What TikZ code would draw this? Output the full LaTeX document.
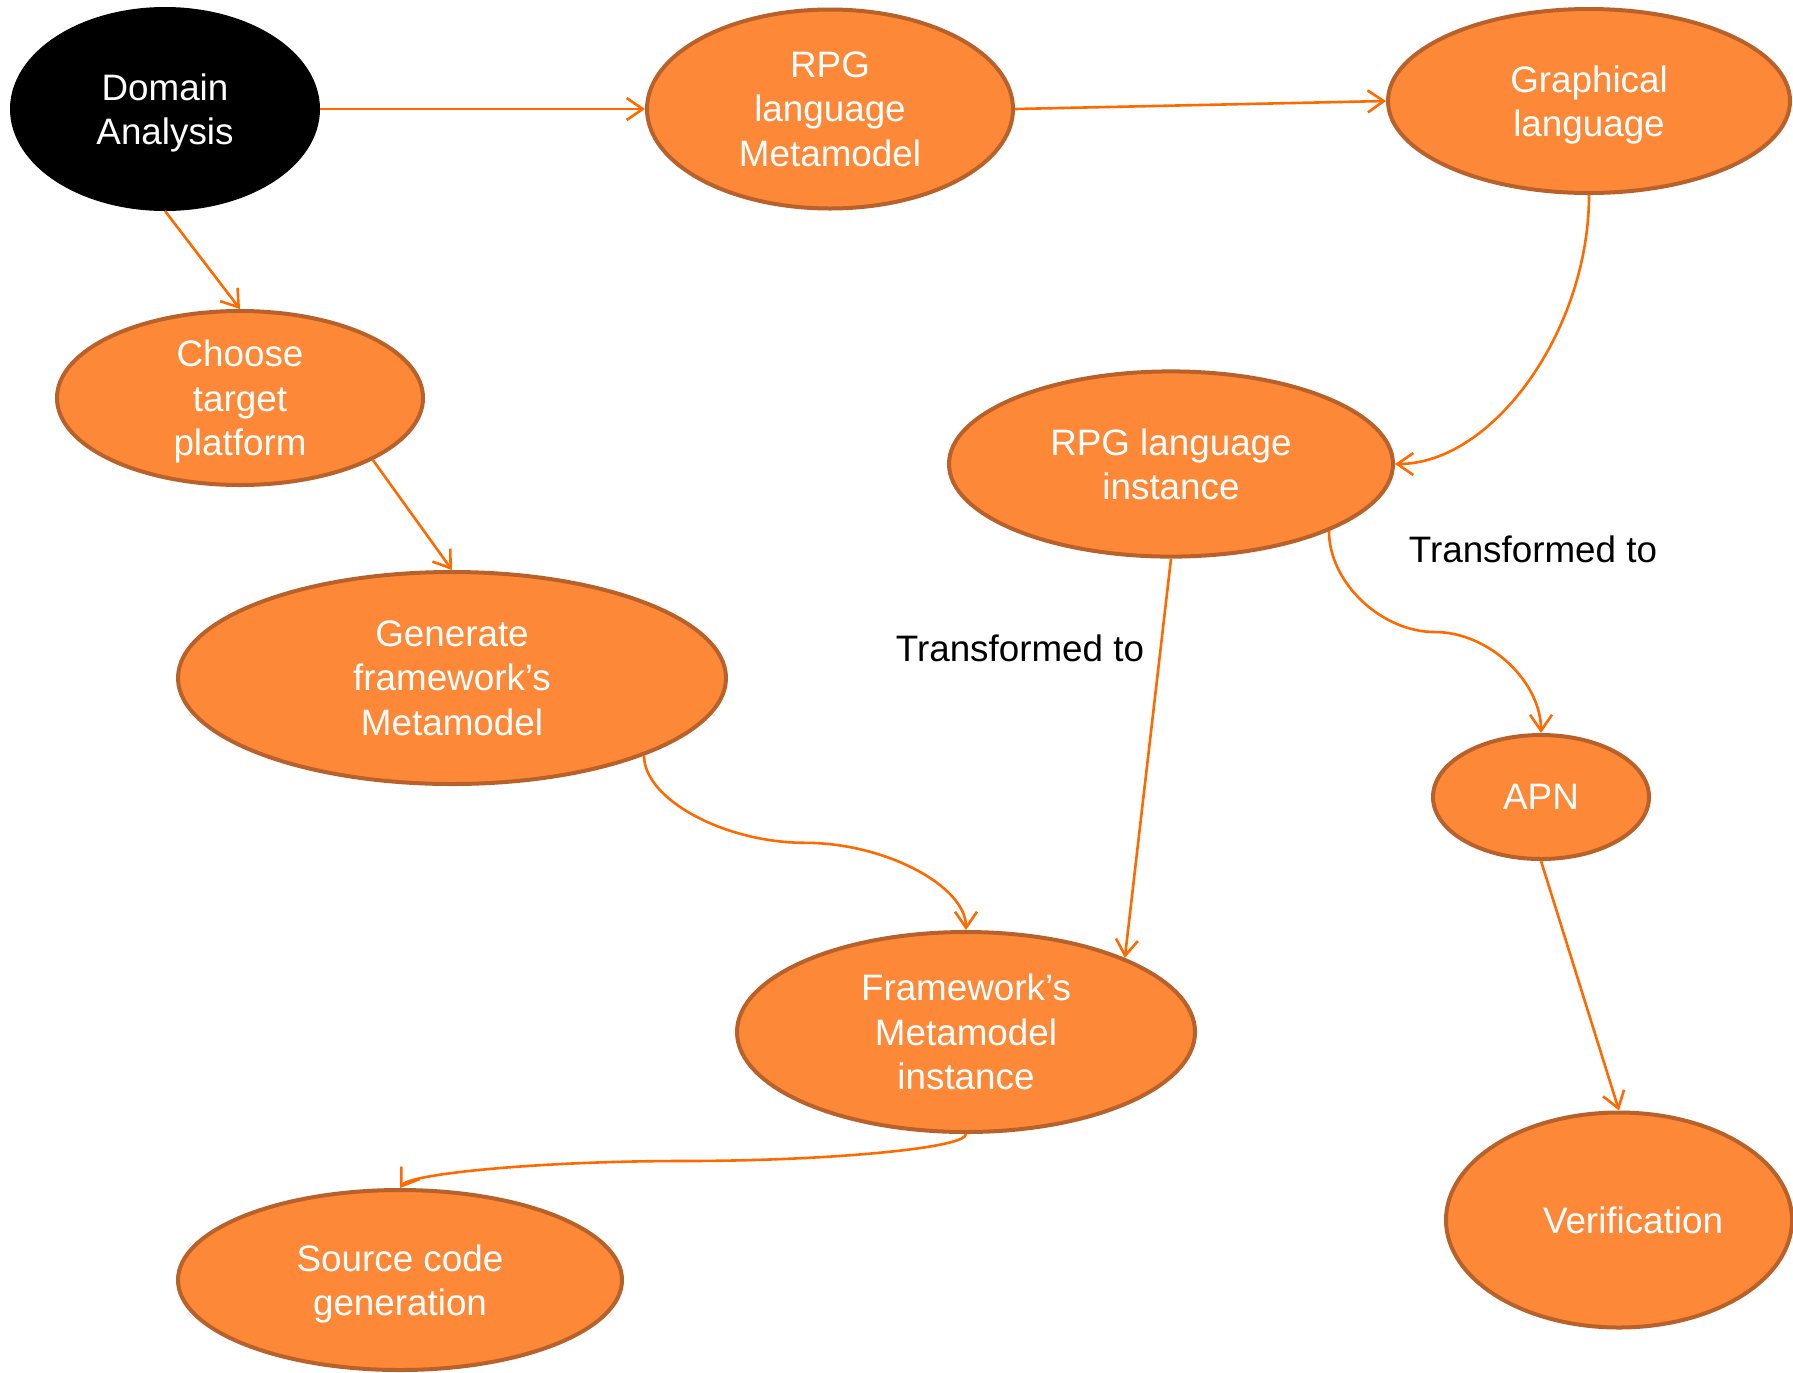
\documentclass[tikz,border=0pt]{standalone}
\usepackage{fontspec}
\setmainfont{Liberation Sans}
\usetikzlibrary{shapes.geometric,arrows.meta,calc}
\definecolor{nodefill}{HTML}{FD8838}
\definecolor{nodeborder}{HTML}{B8612A}
\definecolor{linkcol}{HTML}{FF6A00}
\begin{document}
\begin{tikzpicture}[x=0.5pt,y=-0.5pt,
  bubble/.style={ellipse, draw=nodeborder, line width=2pt, fill=nodefill, text=white,
    inner sep=0pt, align=center, font=\fontsize{18.4}{22.3}\selectfont},
  link/.style={draw=linkcol, line width=1.3pt, -{Straight Barb[length=8pt,width=11pt]}},
  lbl/.style={font=\fontsize{18.4}{22.3}\selectfont, text=black}]
\useasboundingbox (0,0) rectangle (1793,1372);
\fill[white] (0,0) rectangle (1793,1372);

\node[bubble, fill=black, draw=black, minimum width=153pt, minimum height=100pt, text depth=-0.73pt] (dom) at (165,109) {Domain\\Analysis};
\node[bubble, minimum width=183pt, minimum height=99.5pt] (meta) at (830,109) {RPG\\language\\Metamodel};
\node[bubble, minimum width=201pt, minimum height=92pt, text depth=-0.73pt] (graph) at (1589,101) {Graphical\\language};
\node[bubble, minimum width=183pt, minimum height=87pt, text depth=-1.33pt] (choose) at (240,398) {Choose\\target\\platform};
\node[bubble, minimum width=222pt, minimum height=92.6pt, text depth=-2.2pt] (inst) at (1171,464) {RPG language\\instance};
\node[bubble, minimum width=274pt, minimum height=106pt] (gen) at (452,678) {Generate\\framework’s\\Metamodel};
\node[bubble, minimum width=108pt, minimum height=62pt] (apn) at (1541,797) {APN};
\node[bubble, minimum width=229pt, minimum height=100pt] (fw) at (966,1032) {Framework’s\\Metamodel\\instance};
\node[bubble, minimum width=222pt, minimum height=90pt, text depth=-0.73pt] (src) at (400,1280) {Source code\\generation};
\node[bubble, minimum width=173pt, minimum height=107.5pt] (ver) at (1619,1220) {};
\node[text=white, font=\fontsize{18.4}{22.3}\selectfont] (vertext) at (1633,1220) {Verification};

\node[lbl] (t1) at (1020,648) {Transformed to};
\node[lbl] (t2) at (1533,549) {Transformed to};

\coordinate (mA) at ($(inst.-23)!0.5!(apn.north)$);
\coordinate (mB) at ($(gen.-22)!0.5!(fw.north)$);
\coordinate (mC) at ($(fw.south)!0.5!(src.north)$);

\draw[link] (dom.east) -- (meta.west);
\draw[link] (meta.east) -- (graph.west);
\draw[link] (dom.south) -- (choose.north);
\draw[link] (choose.-25) -- (gen.north);
\draw[link] (graph.south) .. controls +(0,135.5) and +(98,0) .. (inst.east);
\draw[link] (inst.south) -- (fw.25);
\draw[link] (inst.-23) .. controls +(0,51.5) and +(-53.75,0) .. (mA)
  .. controls +(53.75,0) and +(0,-51.5) .. (apn.north);
\draw[link] (apn.south) -- (ver.north);
\draw[link] (gen.-22) .. controls +(0,44) and +(-80,0) .. (mB)
  .. controls +(80,0) and +(0,-44) .. (fw.north);
\draw[link] (fw.south) .. controls +(0,14.5) and +(141.5,0) .. (mC)
  .. controls +(-141.5,0) and +(10,-14.5) .. (src.north);
\end{tikzpicture}
\end{document}
